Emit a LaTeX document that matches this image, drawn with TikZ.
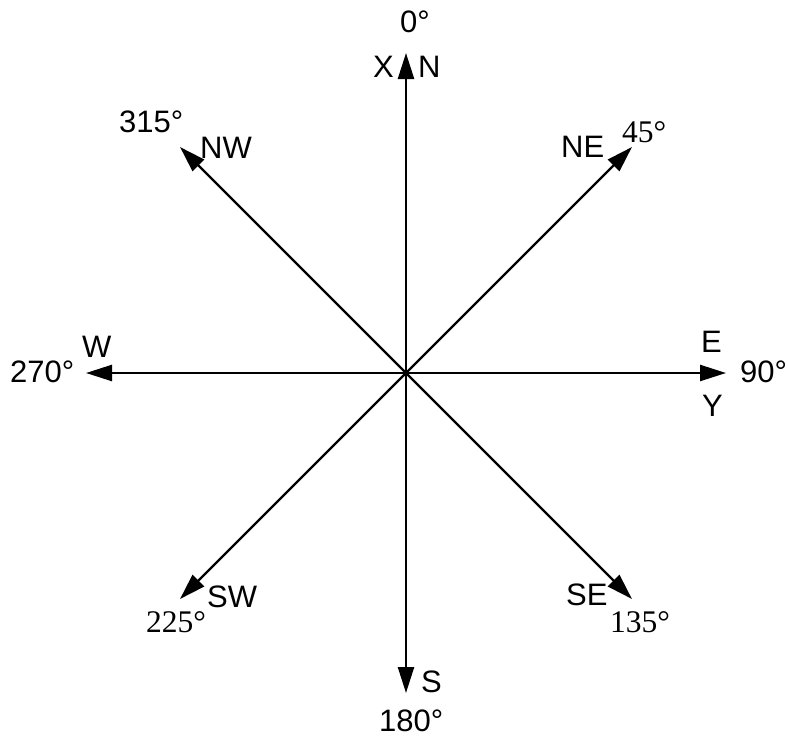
\documentclass[tikz,border=0pt]{standalone}
\usepackage{fontspec}
\setmainfont{Liberation Sans}
\newfontfamily\timesfont{Liberation Serif}
\usepackage{tikz}
\usetikzlibrary{arrows.meta}

\begin{document}
\begin{tikzpicture}[
  x=1pt, y=-1pt,
  arrow/.style={-{Triangle[length=26pt,width=16pt]}, line width=2.4pt},
  tag/.style={font=\fontsize{31}{36}\selectfont, inner sep=0pt, anchor=base west},
  deg/.style={font=\timesfont\fontsize{31.5}{36}\selectfont, inner sep=0pt, anchor=base west}
]
\useasboundingbox (0,0) rectangle (788,736);
% centre and arrow tips
\coordinate (o) at (406,373);
\coordinate (n) at (406,53);
\coordinate (s) at (406,693);
\coordinate (e) at (726,373);
\coordinate (w) at (86,373);
\coordinate (ne) at (632,147);
\coordinate (nw) at (180,147);
\coordinate (se) at (632,599);
\coordinate (sw) at (180,599);
\foreach \t in {n,ne,e,se,s,sw,w,nw}
  \draw[arrow] (o) -- (\t);
% labels
\node[tag] (d0) at (400,32) {0°};
\node[tag] (lx) at (373,77) {X};
\node[tag] (ln) at (418,77) {N};
\node[tag] (d315) at (119,132) {315°};
\node[tag] (lnw) at (200,158) {NW};
\node[tag] (lne) at (561,157) {NE};
\node[deg] (d45) at (622,142) {45°};
\node[tag] (lw) at (82,357) {W};
\node[tag] (d270) at (10,382) {270°};
\node[tag] (le) at (701,352) {E};
\node[tag] (d90) at (740,382) {90°};
\node[tag] (ly) at (702,416) {Y};
\node[tag] (lsw) at (207,607) {SW};
\node[deg] (d225) at (146,632) {225°};
\node[tag] (lse) at (566,605) {SE};
\node[deg] (d135) at (610,632) {135°};
\node[tag] (ls) at (421,692) {S};
\node[tag] (d180) at (379,731) {180°};
\end{tikzpicture}
\end{document}
